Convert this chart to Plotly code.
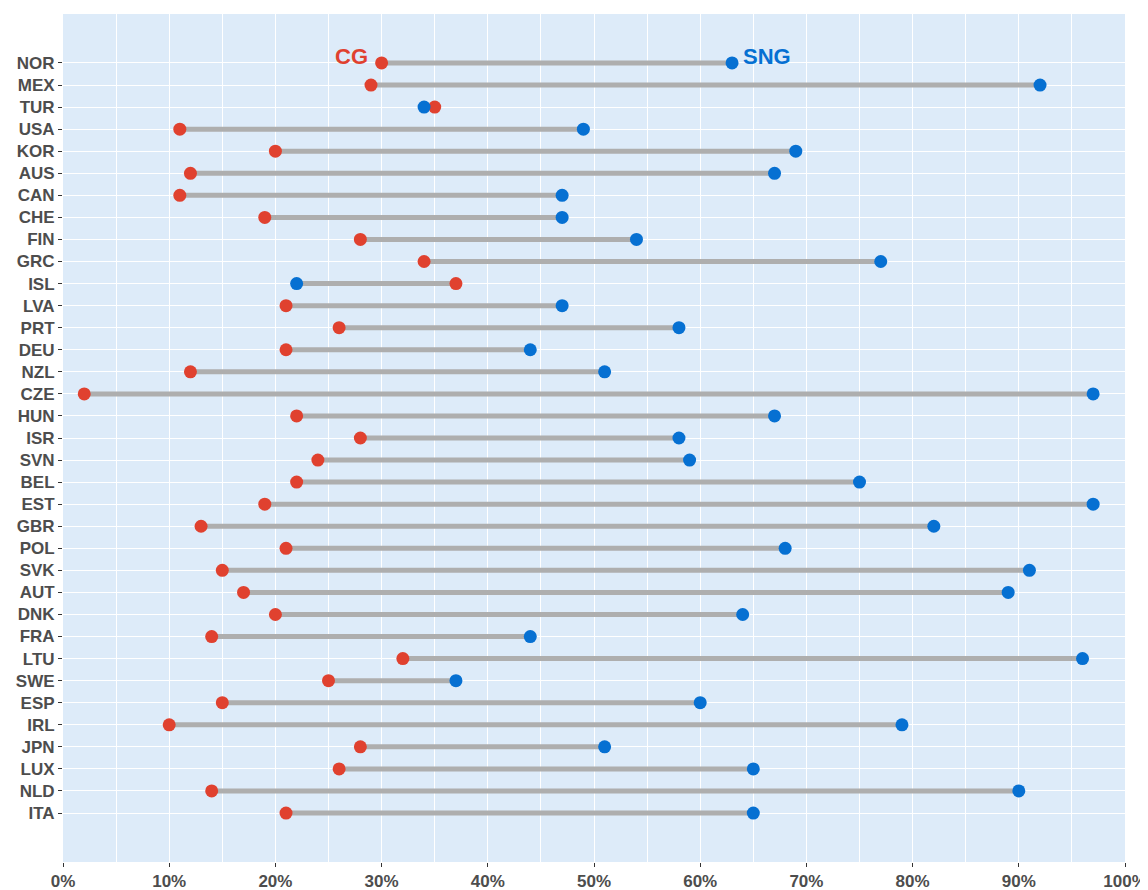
import plotly.graph_objects as go

countries = ["NOR", "MEX", "TUR", "USA", "KOR", "AUS", "CAN", "CHE", "FIN", "GRC",
             "ISL", "LVA", "PRT", "DEU", "NZL", "CZE", "HUN", "ISR", "SVN", "BEL",
             "EST", "GBR", "POL", "SVK", "AUT", "DNK", "FRA", "LTU", "SWE", "ESP",
             "IRL", "JPN", "LUX", "NLD", "ITA"]
cg = [30, 29, 35, 11, 20, 12, 11, 19, 28, 34,
      37, 21, 26, 21, 12, 2, 22, 28, 24, 22,
      19, 13, 21, 15, 17, 20, 14, 32, 25, 15,
      10, 28, 26, 14, 21]
sng = [63, 92, 34, 49, 69, 67, 47, 47, 54, 77,
       22, 47, 58, 44, 51, 97, 67, 58, 59, 75,
       97, 82, 68, 91, 89, 64, 44, 96, 37, 60,
       79, 51, 65, 90, 65]
x_ticks = list(range(0, 101, 10))

RED = "#E0412F"
BLUE = "#0670D2"
GREY = "#AEAEAE"
BG = "#DDEBF9"
TXT = "#4D4D4D"

seg_x, seg_y = [], []
for c, a, b in zip(countries, cg, sng):
    seg_x += [a, b, None]
    seg_y += [c, c, None]

fig = go.Figure()
fig.add_trace(go.Scatter(x=seg_x, y=seg_y, mode="lines",
                         line=dict(color=GREY, width=5), showlegend=False,
                         hoverinfo="skip"))
fig.add_trace(go.Scatter(x=cg, y=countries, mode="markers", name="CG",
                         marker=dict(color=RED, size=13), showlegend=False))
fig.add_trace(go.Scatter(x=sng, y=countries, mode="markers", name="SNG",
                         marker=dict(color=BLUE, size=13), showlegend=False))

fig.add_annotation(x=cg[0], y=countries[0], text="CG", showarrow=False,
                   xanchor="right", xshift=-12, yshift=6,
                   font=dict(color=RED, size=22, family="Liberation Sans", weight="bold"))
fig.add_annotation(x=sng[0], y=countries[0], text="SNG", showarrow=False,
                   xanchor="left", xshift=9, yshift=6,
                   font=dict(color=BLUE, size=22, family="Liberation Sans", weight="bold"))

n = len(countries)
fig.update_layout(
    width=1140, height=882,
    margin=dict(l=55, r=23, t=6, b=28, autoexpand=False),
    paper_bgcolor="white", plot_bgcolor=BG,
    font=dict(family="Liberation Sans", color=TXT),
    xaxis=dict(range=[0, 100], tickvals=x_ticks,
               ticktext=[f"{v}%" for v in x_ticks],
               showgrid=True, gridcolor="white", gridwidth=1.2,
               minor=dict(dtick=5, tick0=0, showgrid=True, gridcolor="white", gridwidth=0.7),
               zeroline=False, ticks="outside", ticklen=4, tickcolor="#333333",
               tickfont=dict(size=17, color=TXT, weight="bold"), showline=False,
               automargin=False),
    yaxis=dict(categoryorder="array", categoryarray=countries[::-1],
               range=[-2.22, n - 1 + 2.22],
               showgrid=True, gridcolor="white", gridwidth=1.2,
               zeroline=False, ticks="outside", ticklen=4, tickcolor="#333333",
               tickfont=dict(size=17, color=TXT, weight="bold"), showline=False,
               automargin=False),
)

fig.write_html("out.html")
